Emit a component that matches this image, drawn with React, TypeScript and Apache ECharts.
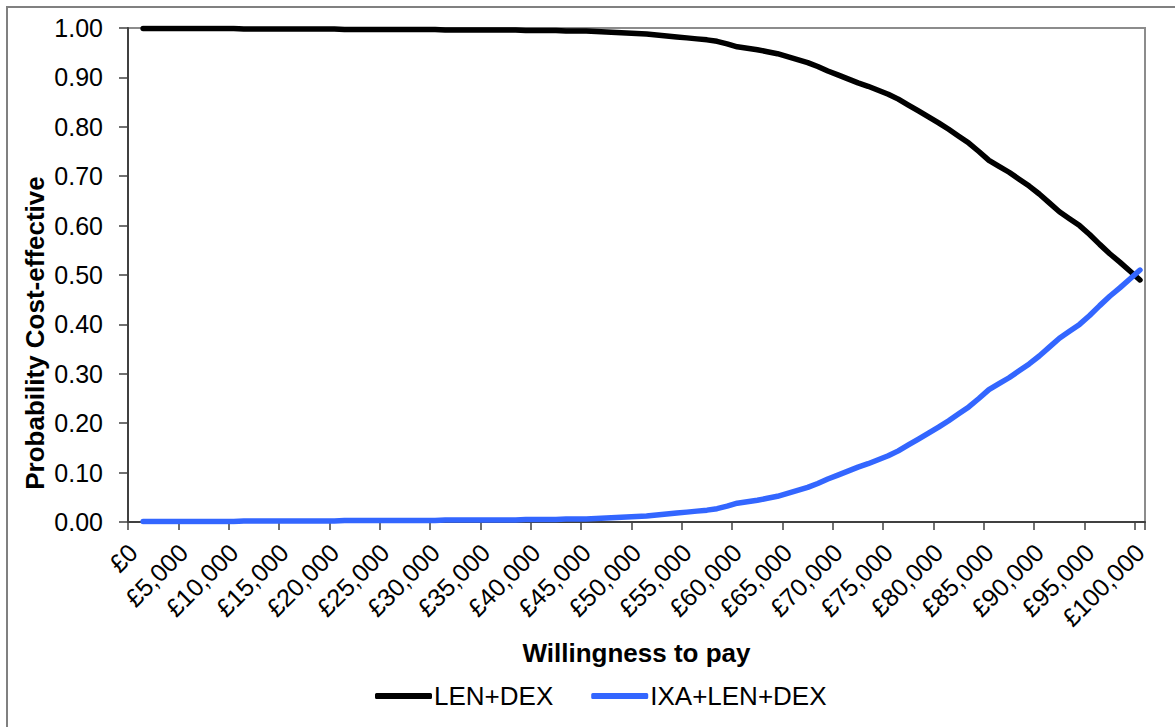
import React, { useEffect, useRef } from "react";
import * as echarts from "echarts";

// Willingness-to-pay categories (every £1,000 from £0 to £100,000)
const WTP_STEP = 1000;
const WTP_COUNT = 101;
const categories: string[] = Array.from({ length: WTP_COUNT }, (_, i) => "£" + (i * WTP_STEP).toLocaleString("en-GB"));

const yTicks = [0, 0.1, 0.2, 0.3, 0.4, 0.5, 0.6, 0.7, 0.8, 0.9, 1.0];

const seriesNames = ["LEN+DEX", "IXA+LEN+DEX"];

// Probability cost-effective, £1,000 .. £100,000 (the £0 point is not plotted)
const lenDex: number[] = [
  0.999, 0.999, 0.999, 0.999, 0.999, 0.999, 0.999, 0.999, 0.999, 0.999,
  0.998, 0.998, 0.998, 0.998, 0.998, 0.998, 0.998, 0.998, 0.998, 0.998,
  0.997, 0.997, 0.997, 0.997, 0.997, 0.997, 0.997, 0.997, 0.997, 0.997,
  0.996, 0.996, 0.996, 0.996, 0.996, 0.996, 0.996, 0.996, 0.995, 0.995,
  0.995, 0.995, 0.994, 0.994, 0.994, 0.993, 0.992, 0.991, 0.990, 0.989,
  0.988, 0.986, 0.984, 0.982, 0.980, 0.978, 0.976, 0.973, 0.968, 0.962,
  0.959, 0.956, 0.952, 0.948, 0.942, 0.936, 0.930, 0.922, 0.913, 0.905,
  0.897, 0.889, 0.882, 0.874, 0.866, 0.856, 0.844, 0.832, 0.820, 0.808,
  0.795, 0.781, 0.767, 0.750, 0.732, 0.720, 0.708, 0.694, 0.680, 0.664,
  0.646, 0.628, 0.614, 0.600, 0.582, 0.562, 0.543, 0.526, 0.508, 0.490,
];

const ixaLenDex: number[] = [
  0.001, 0.001, 0.001, 0.001, 0.001, 0.001, 0.001, 0.001, 0.001, 0.001,
  0.002, 0.002, 0.002, 0.002, 0.002, 0.002, 0.002, 0.002, 0.002, 0.002,
  0.003, 0.003, 0.003, 0.003, 0.003, 0.003, 0.003, 0.003, 0.003, 0.003,
  0.004, 0.004, 0.004, 0.004, 0.004, 0.004, 0.004, 0.004, 0.005, 0.005,
  0.005, 0.005, 0.006, 0.006, 0.006, 0.007, 0.008, 0.009, 0.010, 0.011,
  0.012, 0.014, 0.016, 0.018, 0.020, 0.022, 0.024, 0.027, 0.032, 0.038,
  0.041, 0.044, 0.048, 0.052, 0.058, 0.064, 0.070, 0.078, 0.087, 0.095,
  0.103, 0.111, 0.118, 0.126, 0.134, 0.144, 0.156, 0.168, 0.180, 0.192,
  0.205, 0.219, 0.233, 0.250, 0.268, 0.280, 0.292, 0.306, 0.320, 0.336,
  0.354, 0.372, 0.386, 0.400, 0.418, 0.438, 0.457, 0.474, 0.492, 0.510,
];

const FONT = "'Liberation Sans', Arial, Helvetica, sans-serif";

export default function App() {
  const ref = useRef<HTMLDivElement | null>(null);

  useEffect(() => {
    if (!ref.current) return;
    const chart = echarts.init(ref.current, undefined, { renderer: "svg" });
    chart.setOption({
      animation: false,
      backgroundColor: "#ffffff",
      textStyle: { fontFamily: FONT },
      grid: {
        left: 128,
        top: 28,
        right: 30,
        bottom: 205,
        show: true,
        borderColor: "#8c8c8c",
        borderWidth: 2,
        backgroundColor: "#ffffff",
      },
      graphic: [
        {
          type: "rect",
          shape: { x: 7, y: 7, width: 1400, height: 1000 },
          style: { fill: "none", stroke: "#808080", lineWidth: 2 },
          silent: true,
          z: -1,
        },
        {
          type: "text",
          x: 35,
          y: 333,
          rotation: Math.PI / 2,
          style: {
            text: "Probability Cost-effective",
            font: "bold 26px " + FONT,
            fill: "#000",
            align: "center",
            verticalAlign: "middle",
          },
        },
      ],
      legend: {
        left: 370,
        top: 678,
        itemWidth: 57,
        itemHeight: 6,
        itemGap: 38,
        icon: "roundRect",
        textStyle: { fontSize: 26, color: "#000", fontFamily: FONT, padding: [0, 0, 0, -3] },
        data: seriesNames,
      },
      xAxis: {
        type: "category",
        data: categories,
        boundaryGap: true,
        name: "Willingness to pay",
        nameLocation: "middle",
        nameGap: 118,
        nameTextStyle: { fontSize: 26, fontWeight: "bold", color: "#000", fontFamily: FONT },
        axisLine: { show: true, lineStyle: { color: "#404040", width: 2 } },
        axisTick: { show: true, interval: 4, length: 8, lineStyle: { color: "#404040", width: 1.5 } },
        axisLabel: {
          interval: 4,
          rotate: 45,
          margin: 26,
          fontSize: 25,
          color: "#000",
          fontFamily: FONT,
        },
        splitLine: { show: false },
      },
      yAxis: {
        type: "value",
        min: 0,
        max: 1,
        interval: 0.1,
        axisLine: { show: true, lineStyle: { color: "#404040", width: 2 } },
        axisTick: { show: true, length: 9, lineStyle: { color: "#404040", width: 1.5 } },
        axisLabel: {
          margin: 25,
          fontSize: 25,
          color: "#000",
          fontFamily: FONT,
          formatter: (v: number) => v.toFixed(2),
        },
        splitLine: { show: false },
      },
      series: [
        {
          name: seriesNames[0],
          type: "line",
          data: [null, ...lenDex],
          showSymbol: false,
          symbol: "none",
          lineStyle: { color: "#000000", width: 5.5, cap: "round", join: "round" },
          itemStyle: { color: "#000000" },
        },
        {
          name: seriesNames[1],
          type: "line",
          data: [null, ...ixaLenDex],
          showSymbol: false,
          symbol: "none",
          lineStyle: { color: "#3366ff", width: 5.5, cap: "round", join: "round" },
          itemStyle: { color: "#3366ff" },
        },
      ],
    });
    return () => chart.dispose();
  }, []);

  return (
    <div
      ref={ref}
      style={{ position: "fixed", left: 0, top: 0, width: 1175, height: 727, background: "#fff" }}
    />
  );
}
